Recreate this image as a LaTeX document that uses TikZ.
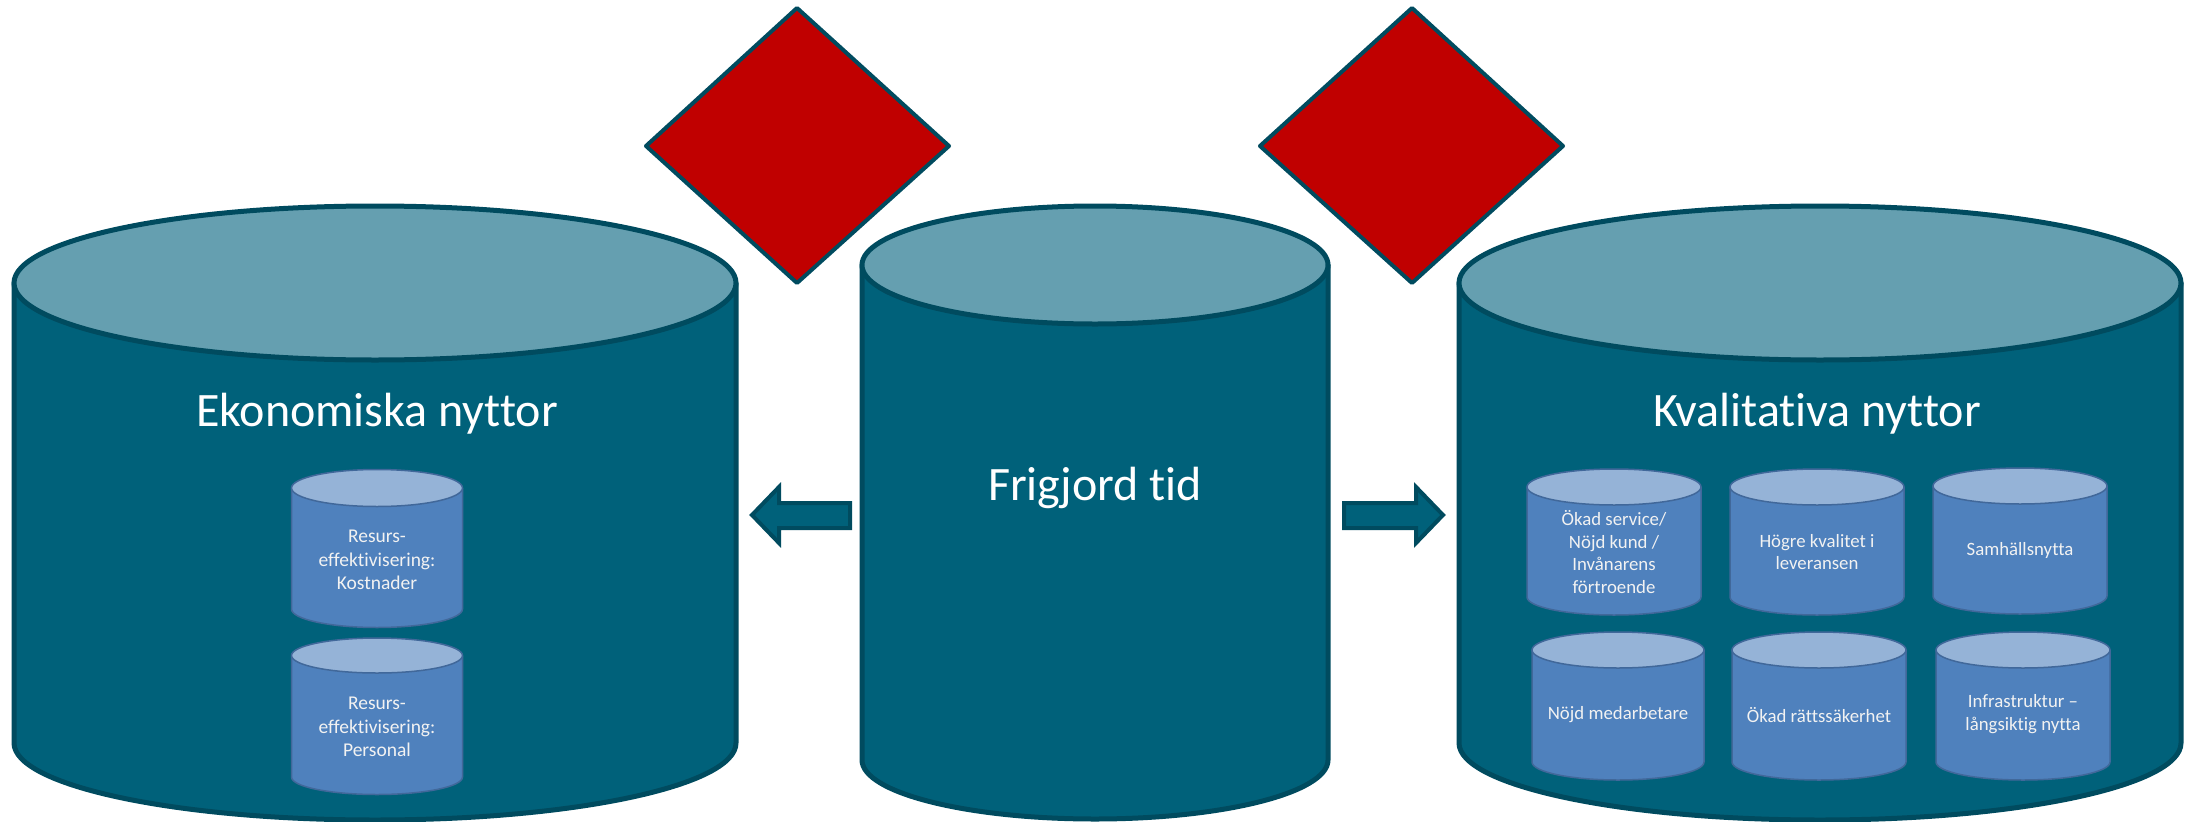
\documentclass[tikz,border=0pt]{standalone}
\usepackage{fontspec}
\setmainfont{Carlito}[Ligatures=NoCommon]
\definecolor{bigbody}{HTML}{00617A}
\definecolor{bigtop}{HTML}{659FB0}
\definecolor{bigline}{HTML}{004B5F}
\definecolor{smbody}{HTML}{4F81BD}
\definecolor{smtop}{HTML}{95B3D7}
\definecolor{smline}{HTML}{41689A}
\definecolor{diared}{HTML}{C00000}
\tikzset{
  bigcyl/.style={line width=5pt, draw=bigline, line join=round},
  smcyl/.style={line width=1.5pt, draw=smline, line join=round},
  bigtext/.style={text=white, font=\fontsize{48}{57}\selectfont, align=center},
  smtext/.style={text=white!95!black, font=\fontsize{19.5}{23.3}\selectfont, align=center},
  smtextr/.style={text=white!95!black, font=\fontsize{18.8}{22.7}\selectfont, align=center},
  diamondshape/.style={fill=diared, draw=bigline, line width=4pt, line join=round},
  blockarrow/.style={fill=bigbody, draw=bigline, line width=4pt, line join=miter},
}
% #1 cx, #2 top center y, #3 bottom center y, #4 rx, #5 ry, #6 body, #7 top, #8 style
\newcommand\drumshape[8]{%
  \path[#8, fill=#6] (#1-#4,#2) -- (#1-#4,#3) arc[start angle=180, end angle=0, x radius=#4, y radius=#5] -- (#1+#4,#2) -- cycle;
  \path[#8, fill=#7] (#1,#2) ellipse[x radius=#4, y radius=#5];
}
\begin{document}
\begin{tikzpicture}[x=1pt, y=-1pt]
\useasboundingbox (0,0) rectangle (2188,822);
% diamonds
\draw[diamondshape] (797,8) -- (949,146) -- (797,283) -- (646,146) -- cycle;
\draw[diamondshape] (1412,8) -- (1563,146) -- (1412,283) -- (1260,146) -- cycle;
% big cylinders
\drumshape{375}{283}{743}{361}{77}{bigbody}{bigtop}{bigcyl}
\drumshape{1095}{265}{760}{233}{59}{bigbody}{bigtop}{bigcyl}
\drumshape{1820}{283}{743}{361}{77}{bigbody}{bigtop}{bigcyl}
\node[bigtext] (eko) at (377,414) {Ekonomiska nyttor};
\node[bigtext] (fri) at (1095,488) {Frigjord tid};
\node[bigtext] (kva) at (1817,414) {Kvalitativa nyttor};
% block arrows
\draw[blockarrow] (752,515) -- (779,487) -- (779,503) -- (850,503) -- (850,528) -- (779,528) -- (779,543) -- cycle;
\draw[blockarrow] (1344,503) -- (1416,503) -- (1416,487) -- (1443,515) -- (1416,543) -- (1416,528) -- (1344,528) -- cycle;
% small cylinders left
\drumshape{377}{488}{609}{85.5}{18.5}{smbody}{smtop}{smcyl}
\drumshape{377}{655.5}{777}{85.5}{17.5}{smbody}{smtop}{smcyl}
\node[smtext] (k1) at (377,560) {Resurs-\\effektivisering:\\Kostnader};
\node[smtext] (k2) at (377,727) {Resurs-\\effektivisering:\\Personal};
% small cylinders right
\drumshape{1614}{487}{597}{87}{18}{smbody}{smtop}{smcyl}
\drumshape{1817}{487}{597}{87}{18}{smbody}{smtop}{smcyl}
\drumshape{2020}{486}{596}{87}{18}{smbody}{smtop}{smcyl}
\drumshape{1618}{650}{762}{86}{18}{smbody}{smtop}{smcyl}
\drumshape{1819}{650}{762}{87}{18}{smbody}{smtop}{smcyl}
\drumshape{2023}{650}{762}{87}{18}{smbody}{smtop}{smcyl}
\node[smtextr] (q1) at (1614,552) {Ökad service/\\Nöjd kund /\\Invånarens\\förtroende};
\node[smtextr] (q2) at (1817,552) {Högre kvalitet i\\leveransen};
\node[smtextr] (q3) at (2020,550) {Samhällsnytta};
\node[smtextr] (q4) at (1618,715) {Nöjd medarbetare};
\node[smtextr] (q5) at (1819,715) {Ökad rättssäkerhet};
\node[smtextr] (q6) at (2023,714) {Infrastruktur --\\långsiktig nytta};
\end{tikzpicture}
\end{document}
